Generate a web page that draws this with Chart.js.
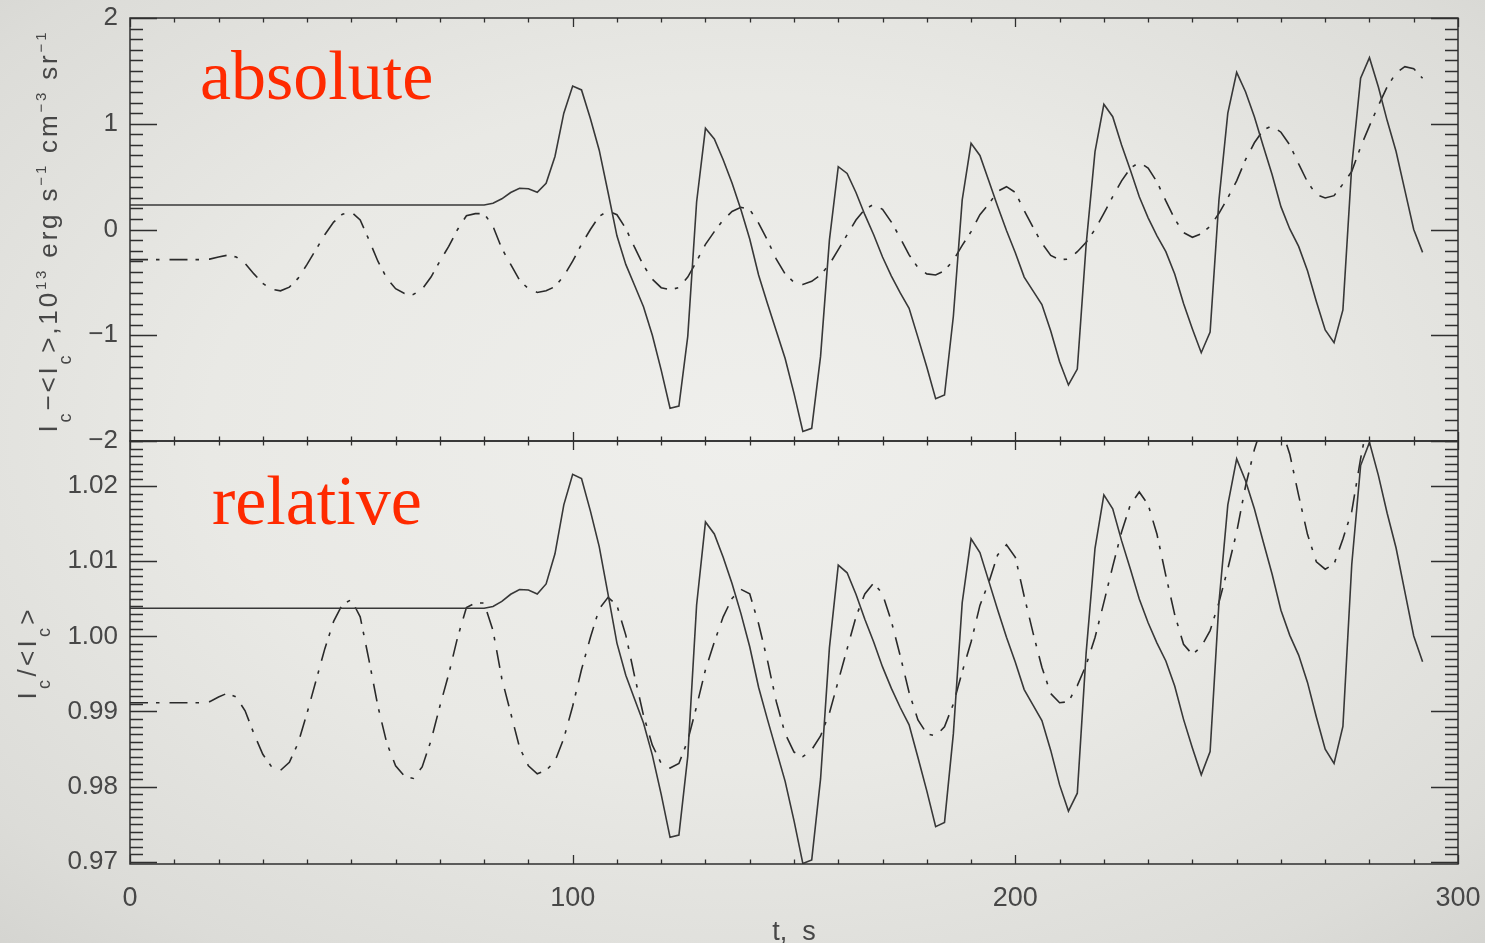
<!DOCTYPE html>
<html>
<head>
<meta charset="utf-8">
<script src="https://cdn.jsdelivr.net/npm/chart.js@4/dist/chart.umd.min.js"></script>
<style>
  html, body { margin: 0; padding: 0; width: 1485px; height: 943px; overflow: hidden; }
  body { background: radial-gradient(ellipse 80% 80% at 50% 46%, #efefec 0%, #e9e9e5 45%, #dcdcd8 80%, #d0d0cc 100%); }
  canvas { position: absolute; left: 0; top: 0; }
</style>
</head>
<body>
<canvas id="chart" width="1485" height="943"></canvas>
<script>
// time samples, s
const times = [0,2,4,6,8,10,12,14,16,18,20,22,24,26,28,30,32,34,36,38,40,42,44,46,48,50,52,54,56,58,60,62,64,66,68,70,72,74,76,78,80,82,84,86,88,90,92,94,96,98,100,102,104,106,108,110,112,114,116,118,120,122,124,126,128,130,132,134,136,138,140,142,144,146,148,150,152,154,156,158,160,162,164,166,168,170,172,174,176,178,180,182,184,186,188,190,192,194,196,198,200,202,204,206,208,210,212,214,216,218,220,222,224,226,228,230,232,234,236,238,240,242,244,246,248,250,252,254,256,258,260,262,264,266,268,270,272,274,276,278,280,282,284,286,288,290,292];

// I_c - <I_c>, 10^13 erg s^-1 cm^-3 sr^-1 (solid curve)
const absSolid = [
  0.232,0.232,0.232,0.232,0.232,0.232,0.232,0.232,0.232,0.232,
  0.232,0.232,0.232,0.232,0.232,0.232,0.232,0.232,0.232,0.232,
  0.232,0.232,0.232,0.232,0.232,0.232,0.232,0.232,0.232,0.232,
  0.232,0.232,0.232,0.232,0.232,0.232,0.232,0.232,0.232,0.232,
  0.232,
  0.248,0.29,0.35,0.39,0.385,0.352,0.437,0.69,1.10,1.357,
  1.32,1.05,0.75,0.35,-0.06,-0.33,-0.53,-0.73,-1.0,-1.33,
  -1.69,-1.67,-1.01,0.26,0.957,0.856,0.66,0.44,0.19,-0.09,
  -0.43,-0.70,-0.96,-1.22,-1.55,-1.91,-1.88,-1.20,-0.10,0.594,
  0.53,0.35,0.14,-0.05,-0.26,-0.44,-0.60,-0.745,-1.02,-1.30,
  -1.60,-1.565,-0.82,0.28,0.815,0.70,0.46,0.22,-0.01,-0.22,
  -0.45,-0.58,-0.71,-0.96,-1.25,-1.47,-1.32,-0.14,0.736,1.184,
  1.067,0.80,0.56,0.31,0.11,-0.06,-0.21,-0.42,-0.70,-0.94,
  -1.165,-0.97,0.28,1.10,1.486,1.303,1.067,0.79,0.52,0.216,
  0.005,-0.16,-0.39,-0.68,-0.95,-1.07,-0.76,0.60,1.43,1.625,
  1.35,1.03,0.74,0.37,0.00,-0.216
];

// I_c - <I_c> (dash-dot curve)
const absDash = [
  -0.285,-0.285,-0.285,-0.285,-0.285,-0.285,-0.285,-0.285,-0.285,-0.28,
  -0.26,-0.243,-0.26,-0.32,-0.42,-0.51,-0.565,-0.58,-0.545,-0.46,
  -0.33,-0.19,-0.05,0.07,0.145,0.165,0.09,-0.10,-0.30,-0.46,
  -0.56,-0.605,-0.615,-0.565,-0.45,-0.30,-0.16,0.00,0.13,0.15,
  0.15,0.03,-0.18,-0.33,-0.48,-0.56,-0.595,-0.58,-0.54,-0.44,
  -0.30,-0.14,0.0,0.125,0.175,0.14,0.01,-0.17,-0.34,-0.47,
  -0.55,-0.57,-0.55,-0.45,-0.30,-0.14,-0.02,0.09,0.17,0.21,
  0.19,0.06,-0.10,-0.28,-0.42,-0.50,-0.52,-0.49,-0.43,-0.33,
  -0.19,-0.05,0.09,0.19,0.238,0.19,0.07,-0.08,-0.24,-0.36,
  -0.42,-0.43,-0.39,-0.29,-0.15,-0.02,0.14,0.24,0.36,0.405,
  0.35,0.18,0.02,-0.13,-0.245,-0.285,-0.28,-0.21,-0.12,0.00,
  0.153,0.31,0.46,0.58,0.635,0.58,0.45,0.27,0.10,-0.03,
  -0.074,-0.04,0.03,0.153,0.30,0.46,0.66,0.82,0.94,0.98,
  0.92,0.80,0.62,0.45,0.33,0.298,0.32,0.43,0.55,0.78,
  0.98,1.17,1.35,1.48,1.54,1.52,1.43
];

// I_c / <I_c> (solid curve)
const relSolid = [
  1.00373,1.00373,1.00373,1.00373,1.00373,1.00373,1.00373,1.00373,1.00373,1.00373,
  1.00373,1.00373,1.00373,1.00373,1.00373,1.00373,1.00373,1.00373,1.00373,1.00373,
  1.00373,1.00373,1.00373,1.00373,1.00373,1.00373,1.00373,1.00373,1.00373,1.00373,
  1.00373,1.00373,1.00373,1.00373,1.00373,1.00373,1.00373,1.00373,1.00373,1.00373,
  1.00373,
  1.00398,1.00465,1.00560,1.00624,1.00616,1.00563,1.00698,1.01099,1.01750,1.02157,
  1.02099,1.01670,1.01195,1.00560,0.99910,0.99482,0.99164,0.98847,0.98419,0.97896,
  0.97325,0.97356,0.98403,1.00417,1.01523,1.01363,1.01052,1.00703,1.00306,0.99862,
  0.99323,0.98895,0.98482,0.98070,0.97547,0.96976,0.97023,0.98102,0.99846,1.00947,
  1.00846,1.00560,1.00227,0.99926,0.99593,0.99307,0.99053,0.98823,0.98387,0.97943,
  0.97467,0.97523,0.98705,1.00449,1.01298,1.01115,1.00735,1.00354,0.99989,0.99656,
  0.99291,0.99085,0.98879,0.98482,0.98023,0.97674,0.97912,0.99783,1.01172,1.01883,
  1.01697,1.01274,1.00893,1.00497,1.00180,0.99910,0.99672,0.99339,0.98895,0.98514,
  0.98157,0.98467,1.00449,1.01750,1.02362,1.02072,1.01697,1.01258,1.00830,1.00348,
  1.00013,0.99751,0.99387,0.98927,0.98498,0.98308,0.98800,1.00957,1.02273,1.02582,
  1.02146,1.01639,1.01179,1.00592,1.00005,0.99662
];

// I_c / <I_c> (dash-dot curve)
const relDash = [
  0.99116,0.99116,0.99116,0.99116,0.99116,0.99116,0.99116,0.99116,0.99116,0.99131,
  0.99192,0.99244,0.99192,0.99009,0.98704,0.98430,0.98262,0.98216,0.98323,0.98582,
  0.98979,0.99406,0.99833,1.00199,1.00427,1.00488,1.00260,0.99680,0.99070,0.98582,
  0.98277,0.98140,0.98109,0.98262,0.98613,0.99070,0.99497,0.99985,1.00382,1.00443,
  1.00443,1.00077,0.99436,0.98979,0.98521,0.98277,0.98170,0.98216,0.98338,0.98643,
  0.99070,0.99558,0.99985,1.00366,1.00519,1.00412,1.00016,0.99467,0.98948,0.98552,
  0.98308,0.98247,0.98308,0.98613,0.99070,0.99558,0.99924,1.00260,1.00504,1.00626,
  1.00565,1.00168,0.99680,0.99131,0.98704,0.98460,0.98399,0.98491,0.98674,0.98979,
  0.99406,0.99833,1.00260,1.00565,1.00711,1.00565,1.00199,0.99741,0.99253,0.98887,
  0.98704,0.98674,0.98796,0.99101,0.99528,0.99924,1.00412,1.00717,1.01083,1.01220,
  1.01053,1.00534,1.00046,0.99589,0.99238,0.99116,0.99131,0.99345,0.99619,0.99985,
  1.00452,1.00931,1.01388,1.01754,1.01922,1.01754,1.01358,1.00809,1.00290,0.99894,
  0.99759,0.99863,1.00077,1.00452,1.00900,1.01388,1.01998,1.02486,1.02852,1.02974,
  1.02791,1.02425,1.01876,1.01358,1.00992,1.00894,1.00961,1.01297,1.01663,1.02364,
  1.02974,1.03554,1.04103,1.04499,1.04682,1.04621,1.04347
];

// axis ticks
const timeTicks = [0, 100, 200, 300];
const absTicks = [-2, -1, 0, 1, 2];
const relTicks = [0.97, 0.98, 0.99, 1.00, 1.01, 1.02];

// panel labels
const panelNames = ['absolute', 'relative'];

const SANS = '"Liberation Sans", Arial, Helvetica, sans-serif';
const SERIF = '"Liberation Serif", "DejaVu Serif", serif';
const INK = '#2f2f2f';
const LABEL = '#474747';
const DASH_DOT = [18, 8, 3.5, 10];

function pairs(ys) { return times.map((t, i) => ({ x: t, y: ys[i] })); }

// IDL-style inward ticks on all four sides of one panel
function drawPanelFrame(ctx, xs, ys, minorStepY, minorRangeY, majorY) {
  const L = xs.left, R = xs.right, T = ys.top, B = ys.bottom;
  ctx.save();
  ctx.strokeStyle = INK;
  ctx.lineWidth = 1.5;
  ctx.beginPath();
  ctx.rect(L, T, R - L, B - T);
  ctx.stroke();
  ctx.lineWidth = 1.3;
  ctx.beginPath();
  const [lo, hi] = minorRangeY;
  for (let k = lo; k <= hi; k++) {
    const v = k * minorStepY;
    if (v < ys.min - 1e-9 || v > ys.max + 1e-9) continue;
    const isMajor = majorY.some(m => Math.abs(m - v) < minorStepY / 4);
    const len = isMajor ? 27 : 13;
    const py = Math.round(ys.getPixelForValue(v)) + 0.5;
    ctx.moveTo(L, py); ctx.lineTo(L + len, py);
    ctx.moveTo(R, py); ctx.lineTo(R - len, py);
  }
  for (let t = 0; t <= 300; t += 10) {
    const isMajor = timeTicks.includes(t);
    const len = isMajor ? 9 : 4.5;
    const px = Math.round(xs.getPixelForValue(t)) + 0.5;
    ctx.moveTo(px, T); ctx.lineTo(px, T + len);
    ctx.moveTo(px, B); ctx.lineTo(px, B - len);
  }
  ctx.stroke();
  ctx.restore();
}

// Rotated axis title with sub- and superscripts, spread over a given length
function drawRichTitle(ctx, parts, x, yc, length) {
  const size = { n: 26, sub: 18, sup: 15 };
  const shift = { n: 0, sub: 14, sup: -11 };
  let natural = 0, count = 0;
  for (const [txt, kind = 'n'] of parts) {
    ctx.font = `${size[kind]}px ${SANS}`;
    natural += ctx.measureText(txt).width;
    count += txt.length;
  }
  const gap = Math.max(0, (length - natural) / Math.max(1, count - 1));
  ctx.save();
  ctx.translate(x, yc);
  ctx.rotate(-Math.PI / 2);
  ctx.fillStyle = LABEL;
  ctx.textAlign = 'left';
  ctx.textBaseline = 'alphabetic';
  let u = -length / 2;
  for (const [txt, kind = 'n'] of parts) {
    ctx.font = `${size[kind]}px ${SANS}`;
    for (const ch of txt) {
      ctx.fillText(ch, u, shift[kind]);
      u += ctx.measureText(ch).width + gap;
    }
  }
  ctx.restore();
}

const absTitle = [['I'], ['c', 'sub'], ['\u2212<I'], ['c', 'sub'], ['>,10'], ['13', 'sup'],
  [' erg s'], ['\u22121', 'sup'], [' cm'], ['\u22123', 'sup'], [' sr'], ['\u22121', 'sup']];
const relTitle = [['I'], ['c', 'sub'], ['/<I'], ['c', 'sub'], ['>']];

const panelClip = {
  id: 'panelClip',
  beforeDatasetDraw(chart, args) {
    const ys = chart.scales[args.meta.yAxisID];
    const ctx = chart.ctx;
    ctx.save();
    ctx.beginPath();
    ctx.rect(chart.chartArea.left, ys.top, chart.chartArea.right - chart.chartArea.left, ys.bottom - ys.top);
    ctx.clip();
  },
  afterDatasetDraw(chart) { chart.ctx.restore(); }
};

const decorations = {
  id: 'decorations',
  afterDatasetsDraw(chart) {
    const ctx = chart.ctx;
    const xs = chart.scales.x, ya = chart.scales.yAbs, yr = chart.scales.yRel;
    drawPanelFrame(ctx, xs, ya, 0.1, [-20, 20], absTicks);
    drawPanelFrame(ctx, xs, yr, 0.001, [969, 1026], relTicks);

    drawRichTitle(ctx, absTitle, xs.left - 73, (ya.top + ya.bottom) / 2 + 3, 400);
    drawRichTitle(ctx, relTitle, xs.left - 94, (yr.top + yr.bottom) / 2 + 2, 90);

    ctx.save();
    ctx.fillStyle = '#ff2a00';
    ctx.font = `70px ${SERIF}`;
    ctx.textAlign = 'left';
    ctx.textBaseline = 'alphabetic';
    ctx.fillText(panelNames[0], xs.getPixelForValue(15.8), ya.getPixelForValue(1.234));
    ctx.fillText(panelNames[1], xs.getPixelForValue(18.5), yr.getPixelForValue(1.01495));
    ctx.restore();
  }
};

const tickFont = { family: SANS, size: 26 };
const noVerticalOverflow = s => { s.width = 130; s.paddingTop = 0; s.paddingBottom = 0; };

new Chart(document.getElementById('chart'), {
  type: 'line',
  data: {
    datasets: [
      { label: 'absolute, solid', data: pairs(absSolid), yAxisID: 'yAbs',
        borderColor: '#383838', borderWidth: 1.6, pointRadius: 0, tension: 0, clip: false },
      { label: 'absolute, dash-dot', data: pairs(absDash), yAxisID: 'yAbs',
        borderColor: '#2a2a2a', borderWidth: 1.6, borderDash: DASH_DOT, pointRadius: 0, tension: 0, clip: false },
      { label: 'relative, solid', data: pairs(relSolid), yAxisID: 'yRel',
        borderColor: '#383838', borderWidth: 1.6, pointRadius: 0, tension: 0, clip: false },
      { label: 'relative, dash-dot', data: pairs(relDash), yAxisID: 'yRel',
        borderColor: '#2a2a2a', borderWidth: 1.6, borderDash: DASH_DOT, pointRadius: 0, tension: 0, clip: false }
    ]
  },
  options: {
    responsive: false,
    animation: false,
    events: [],
    layout: { padding: { left: 0, right: 27, top: 18, bottom: 0 } },
    plugins: { legend: { display: false }, tooltip: { enabled: false } },
    scales: {
      x: {
        type: 'linear', position: 'bottom', min: 0, max: 300,
        afterBuildTicks: s => { s.ticks = timeTicks.map(v => ({ value: v })); },
        afterFit: s => { s.height = 79; s.paddingLeft = 0; s.paddingRight = 0; },
        grid: { display: false, drawTicks: false },
        border: { display: false },
        ticks: { padding: 18, font: { family: SANS, size: 27 }, color: LABEL, maxRotation: 0, autoSkip: false },
        title: { display: true, text: 't,  s', color: LABEL, font: { family: SANS, size: 27, lineHeight: 0.8 }, padding: { top: 0, bottom: 0 } }
      },
      yAbs: {
        type: 'linear', position: 'left', stack: 'panels', stackWeight: 1, weight: 2,
        min: -2, max: 2,
        afterBuildTicks: s => { s.ticks = absTicks.map(v => ({ value: v })); },
        afterFit: noVerticalOverflow,
        grid: { display: false, drawTicks: false },
        border: { display: false },
        ticks: { padding: 12, font: tickFont, color: LABEL, callback: v => (v < 0 ? '\u2212' + Math.abs(v) : String(v)) }
      },
      yRel: {
        type: 'linear', position: 'left', stack: 'panels', stackWeight: 1, weight: 1,
        min: 0.9697, max: 1.026,
        afterBuildTicks: s => { s.ticks = relTicks.map(v => ({ value: v })); },
        afterFit: noVerticalOverflow,
        grid: { display: false, drawTicks: false },
        border: { display: false },
        ticks: { padding: 12, font: tickFont, color: LABEL, callback: v => Number(v).toFixed(2) }
      }
    }
  },
  plugins: [panelClip, decorations]
});
</script>
</body>
</html>
